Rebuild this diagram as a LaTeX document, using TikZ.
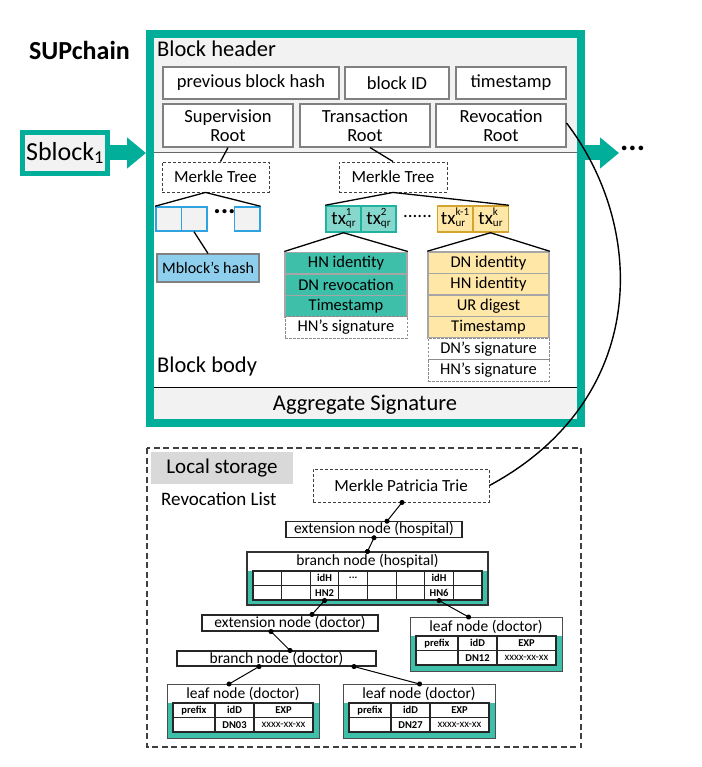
\documentclass[tikz,border=0pt]{standalone}
\usepackage{fontspec}
\setmainfont{Carlito}
\usetikzlibrary{arrows.meta}
\definecolor{tealF}{HTML}{00AE9A}
\definecolor{tealM}{HTML}{3DBFA9}
\definecolor{tealL}{HTML}{86D8CC}
\definecolor{tealB}{HTML}{1FB29E}
\definecolor{yelL}{HTML}{FFE7A8}
\definecolor{yelB}{HTML}{D4A52E}
\definecolor{hdr}{HTML}{F2F2F2}
\definecolor{grayB}{HTML}{808080}
\definecolor{blueB}{HTML}{2FA3E0}
\definecolor{blueF}{HTML}{8ECFEE}
\definecolor{lsgray}{HTML}{D9D9D9}
\newcommand\fs[2]{\fontsize{#1}{#2}\selectfont}
\newcommand\txs[2]{tx\raisebox{-2.5pt}{\fs{11}{11}\begin{tabular}[b]{@{}l@{}}#1\\[0.5pt]#2\end{tabular}}}
\newcommand\leafnode[4]{%
  \fill[tealM] (#2,#3+19) rectangle (#2+152,#3+54);
  \node[draw=black!70, line width=1.1, minimum width=152, minimum height=54, anchor=north west] (#1) at (#2,#3) {};
  \node[font=\fs{15.5}{15.5}] (#1t) at (#2+76,#3+10) {leaf node (doctor)};
  \node[tcell, minimum width=42, minimum height=14.5] (#1a) at (#2+27,#3+26.25) {prefix};
  \node[tcell, minimum width=39, minimum height=14.5] (#1b) at (#2+67.5,#3+26.25) {idD};
  \node[tcell, minimum width=59, minimum height=14.5] (#1c) at (#2+116.5,#3+26.25) {EXP};
  \node[tcell, minimum width=42, minimum height=14.5] (#1d) at (#2+27,#3+40.75) {};
  \node[tcell, minimum width=39, minimum height=14.5] (#1e) at (#2+67.5,#3+40.75) {#4};
  \node[tcell, minimum width=59, minimum height=14.5, font=\fs{11}{11}] (#1f) at (#2+116.5,#3+40.75) {xxxx-xx-xx};
}
\begin{document}
\begin{tikzpicture}[x=1pt,y=-1pt,
  every node/.style={inner sep=0pt},
  hbox/.style={draw=grayB, line width=1.1, fill=white, align=center, font=\fs{18.5}{19.5}},
  mtbox/.style={draw=black!75, dash pattern=on 3pt off 2pt, line width=0.9, fill=white, font=\fs{17}{17}},
  bcell/.style={draw=blueB, line width=1.5, fill=hdr, minimum width=25.5, minimum height=24},
  qrbox/.style={draw=tealB, line width=1.5, fill=tealL, minimum width=35, minimum height=26, font=\fs{19}{19}},
  urbox/.style={draw=yelB, line width=1.5, fill=yelL, minimum width=35.5, minimum height=26, font=\fs{19}{19}},
  stk/.style={draw=black!35, line width=1.5, minimum height=21.5, font=\fs{16.5}{16.5}},
  sig/.style={stk, draw=black!45, dash pattern=on 2.5pt off 1.5pt, line width=0.9, fill=white},
  tline/.style={draw=black, line width=1.3},
  mbox/.style={draw=black!85, line width=1.1, fill=white, font=\fs{15.5}{15.5}},
  tcell/.style={draw=black!85, line width=1.1, fill=white, font=\bfseries\fs{10.5}{10.5}},
  dotline/.style={draw=black, line width=1, {Circle[length=5pt]}-{Circle[length=5pt]}, shorten <=-2.5pt, shorten >=-2.5pt},
  blk/.style={tealF, line width=15, -{Triangle[length=19pt,width=30pt]}}
]
\useasboundingbox (0,0) rectangle (701,767);

\node[anchor=base west, font=\bfseries\fs{26}{26}] (sup) at (29,60) {SUPchain};

% block frame
\fill[hdr] (154,38) rectangle (577,153);
\fill[hdr] (154,387) rectangle (577,419);
\draw[black!60, line width=1] (154,153) -- (577,153);
\draw[black, line width=0.8] (154,387) -- (577,387);
\draw[tealF, line width=8] (150,34) rectangle (581,423);

\node[anchor=base west, font=\fs{22.5}{22.5}] (bhdr) at (157,57) {Block header};
\node[hbox, minimum width=176, minimum height=32] (prev) at (251,83) {previous block hash};
\node[hbox, minimum width=104, minimum height=32] (bid) at (397,83) {block ID};
\node[hbox, minimum width=110, minimum height=32] (ts) at (511,83) {timestamp};
\node[hbox, minimum width=130, minimum height=43] (sroot) at (228,125.5) {Supervision\\Root};
\node[hbox, minimum width=130, minimum height=43] (troot) at (365,125.5) {Transaction\\Root};
\node[hbox, minimum width=130, minimum height=43] (rroot) at (501,125.5) {Revocation\\Root};

% chain arrows
\node[draw=tealF, line width=5, fill=hdr, minimum width=85, minimum height=41, font=\fs{26}{26}] (sb) at (65,153) {Sblock\textsubscript{1}};
\coordinate (ltip) at (146,153);
\draw[blk] (sb.east) -- (ltip);
\coordinate (rst) at (585,153);
\coordinate (rtip) at (619,153);
\draw[blk] (rst) -- (rtip);
\node[anchor=west, font=\bfseries\fs{31}{31}] (more) at (620,148) {...};

% merkle trees
\node[mtbox, minimum width=107, minimum height=30] (mtl) at (215.5,177) {Merkle Tree};
\node[mtbox, minimum width=108, minimum height=30] (mtr) at (393,177) {Merkle Tree};
\draw[tline] (sroot.south) -- ([xshift=5]mtl.north);
\draw[tline] ([xshift=5]troot.south) -- (mtr.north);

\node[bcell] (c1) at (168.5,219) {};
\node[bcell] (c2) at (194,219) {};
\node[font=\bfseries\fs{28}{28}] (cd) at (224.5,212) {...};
\node[bcell] (c3) at (247,219) {};
\draw[tline] (c1.north west) -- ([xshift=-10]mtl.south) -- (c3.north east);
\node[draw=grayB, line width=1.1, fill=blueF, minimum width=102, minimum height=28, font=\fs{16}{16}] (mh) at (208,268) {Mblock's hash};
\draw[tline] (c2.south) -- (mh.north);

\node[qrbox] (q1) at (343.5,219) {\txs{1}{qr}};
\node[qrbox] (q2) at (378.5,219) {\txs{2}{qr}};
\node[font=\fs{19}{19}] (qd) at (417.5,216) {......};
\node[urbox] (u1) at (455,219) {\txs{k-1}{ur}};
\node[urbox] (u2) at (490.5,219) {\txs{k}{ur}};
\draw[tline] (q1.north west) -- (mtr.south) -- (u2.north east);

\node[stk, fill=tealM, minimum width=122] (l1) at (346,263) {HN identity};
\node[stk, fill=tealM, minimum width=122] (l2) at (346,284.5) {DN revocation};
\node[stk, fill=tealM, minimum width=122] (l3) at (346,306) {Timestamp};
\node[sig, minimum width=122] (l4) at (346,327.5) {HN's signature};
\draw[tline] (l1.north west) -- (q1.south) -- (l1.north east);

\node[stk, fill=yelL, minimum width=121] (r1) at (488.5,262.75) {DN identity};
\node[stk, fill=yelL, minimum width=121] (r2) at (488.5,284.25) {HN identity};
\node[stk, fill=yelL, minimum width=121] (r3) at (488.5,305.75) {UR digest};
\node[stk, fill=yelL, minimum width=121] (r4) at (488.5,327.25) {Timestamp};
\node[sig, minimum width=121] (r5) at (488.5,348.75) {DN's signature};
\node[sig, minimum width=121] (r6) at (488.5,370.25) {HN's signature};
\draw[tline] (r1.north west) -- (u2.south) -- (r1.north east);

\node[anchor=base west, font=\fs{22.5}{22.5}] (bb) at (157,372) {Block body};
\node[anchor=base, font=\fs{22.5}{22.5}] (ag) at (365,410) {Aggregate Signature};

% local storage
\draw[black!75, line width=1.2, dash pattern=on 6pt off 3.5pt] (147,448) rectangle (581,747);
\node[fill=lsgray, minimum width=142, minimum height=32, font=\fs{21}{21}] (ls) at (222,468) {Local storage};
\node[anchor=base west, font=\fs{19}{19}] (rl) at (161,505) {Revocation List};
\node[mtbox, minimum width=176, minimum height=33] (mpt) at (401,485.5) {Merkle Patricia Trie};
\draw[line width=1.4] ([yshift=2.5]rroot.east) .. controls (648,230) and (648,400) .. (mpt.east);

\node[mbox, minimum width=176, minimum height=15.5] (exh) at (374,529.5) {extension node (hospital)};
\draw[dotline] ([xshift=1]mpt.south) -- ([xshift=13]exh.north);

\fill[tealM] (247,571) rectangle (488,605);
\node[draw=black!80, line width=1.1, minimum width=241, minimum height=53] (brh) at (367.5,578.5) {};
\node[font=\fs{15.5}{15.5}] (brht) at (367.5,561.5) {branch node (hospital)};
\foreach \i/\ta/\tb in {0//,1//,2/idH/HN2,3/{...}/,4//,5//,6/idH/HN6,7//} {
  \node[tcell, minimum width=28.625, minimum height=14.5] (bhA\i) at ({253+28.625*(\i+0.5)},578.25) {\ta};
  \node[tcell, minimum width=28.625, minimum height=14.5] (bhB\i) at ({253+28.625*(\i+0.5)},592.75) {\tb};
}
\draw[dotline] (exh.south) -- (brh.north);

\node[mbox, minimum width=176, minimum height=16] (exd) at (290,623) {extension node (doctor)};
\draw[dotline] (bhB2.south) -- ([xshift=22]exd.north);
\node[mbox, minimum width=199, minimum height=15] (brd) at (276.5,658.5) {branch node (doctor)};
\draw[dotline] ([xshift=-19]exd.south) -- ([xshift=13.5]brd.north);

\leafnode{lfc}{410}{617}{DN12}
\leafnode{lfa}{167}{684}{DN03}
\leafnode{lfb}{343}{684}{DN27}
\draw[dotline] (bhB6.south) -- ([xshift=-18]lfc.north);
\draw[dotline] ([xshift=-17.5]brd.south) -- ([xshift=-14.5]lfa.north);
\draw[dotline] ([xshift=77.5]brd.south) -- (lfb.north);
\end{tikzpicture}
\end{document}
